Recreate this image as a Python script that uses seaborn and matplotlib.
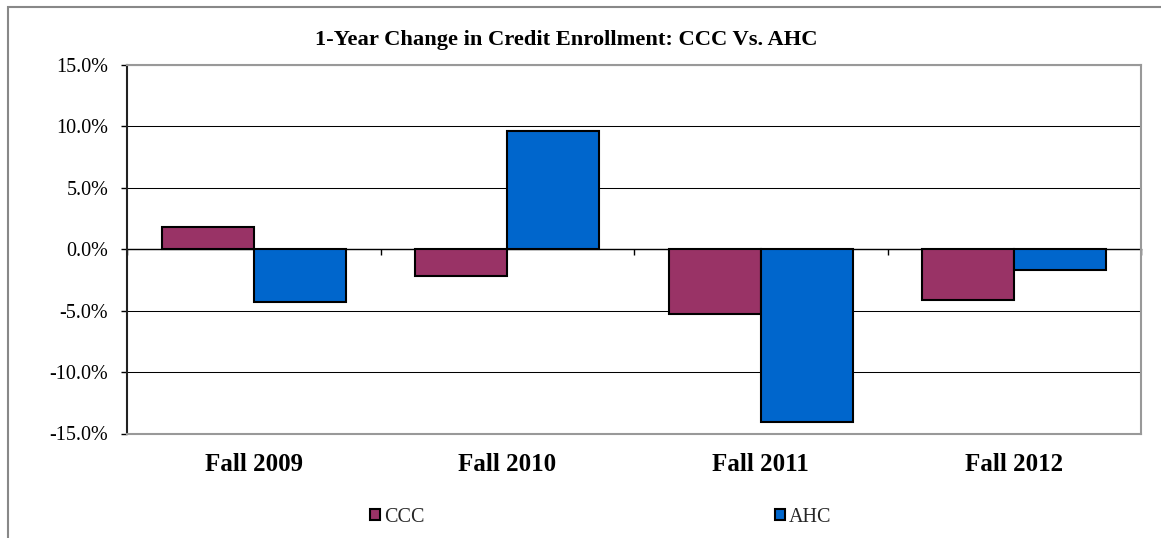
import matplotlib
matplotlib.use("Agg")
import matplotlib.pyplot as plt
import seaborn as sns
import pandas as pd
from matplotlib.patches import Patch, Rectangle
from matplotlib.ticker import FuncFormatter

# ---- data ----
categories = ["Fall 2009", "Fall 2010", "Fall 2011", "Fall 2012"]
series = ["CCC", "AHC"]
ccc_values = [1.8, -2.2, -5.3, -4.1]
ahc_values = [-4.3, 9.6, -14.1, -1.7]
colors = ["#993366", "#0066CC"]
yticks = [-15, -10, -5, 0, 5, 10, 15]
title = "1-Year Change in Credit Enrollment: CCC Vs. AHC"

sns.set_theme(style="white")
plt.rcParams['font.family'] = ['Liberation Serif', 'DejaVu Serif']
plt.rcParams['axes.unicode_minus'] = False

df = pd.DataFrame({
    "Year": categories * 2,
    "Series": [series[0]] * len(categories) + [series[1]] * len(categories),
    "Change": ccc_values + ahc_values,
})

W, H = 1161, 538
fig = plt.figure(figsize=(W / 100, H / 100), dpi=100)
ax = fig.add_axes([127 / W, 1 - 433.5 / H, (1141 - 127) / W, (433.5 - 65) / H])

sns.barplot(data=df, x="Year", y="Change", hue="Series", order=categories,
            hue_order=series, palette=colors, saturation=1, width=0.727, gap=0,
            errorbar=None, edgecolor="black", linewidth=1.5, ax=ax, legend=False)

ax.set_xlim(-0.5, len(categories) - 0.5)
ax.set_ylim(min(yticks), max(yticks))
ax.set_yticks(yticks)
ax.yaxis.set_major_formatter(FuncFormatter(lambda v, p: f"{v:.1f}%"))
ax.set_axisbelow(True)
ax.yaxis.grid(True, color="black", linewidth=0.75)
ax.xaxis.grid(False)
ax.set_xlabel("")
ax.set_ylabel("")

ax.tick_params(axis="y", left=True, direction="out", length=4.5, width=1.0,
               pad=9, labelsize=14.5, colors="black")
ax.tick_params(axis="x", bottom=False, length=0, pad=14, labelsize=18,
               colors="black")
for lab in ax.get_xticklabels():
    lab.set_fontweight("bold")

for side in ["top", "right", "bottom"]:
    ax.spines[side].set_color("#999999")
    ax.spines[side].set_linewidth(1.5)
ax.spines["left"].set_color("#222222")
ax.spines["left"].set_linewidth(1.5)

# category axis crossing at zero with separator ticks
sec = ax.secondary_xaxis(0, transform=ax.transData)
sec.set_xticks([i - 0.5 for i in range(len(categories) + 1)])
sec.tick_params(axis="x", direction="out", length=4.5, width=1.0,
                labelbottom=False, labeltop=False, colors="black")
for s in sec.spines.values():
    s.set_color("black")
    s.set_linewidth(1.0)

# title
fig.text(566 / W, 1 - 45 / H, title, ha="center", va="baseline",
         fontsize=16.2, fontweight="bold", color="black")

# legend
handles = [Patch(facecolor=c, edgecolor="black", linewidth=1.5) for c in colors]
fig.legend(handles, series, loc="center left", bbox_to_anchor=(370 / W, 1 - 517 / H),
           ncol=2, frameon=False, fontsize=14.5, handlelength=0.5, handleheight=0.5,
           handletextpad=0.2, columnspacing=17.4, borderpad=0, borderaxespad=0)

# outer chart border
fig.patches.append(Rectangle((8 / W, -0.5), 2.0, 0.5 + 1 - 7 / H, transform=fig.transFigure,
                             fill=False, edgecolor="#888888", linewidth=1.5, clip_on=False))

fig.savefig("out.png", dpi=100)
